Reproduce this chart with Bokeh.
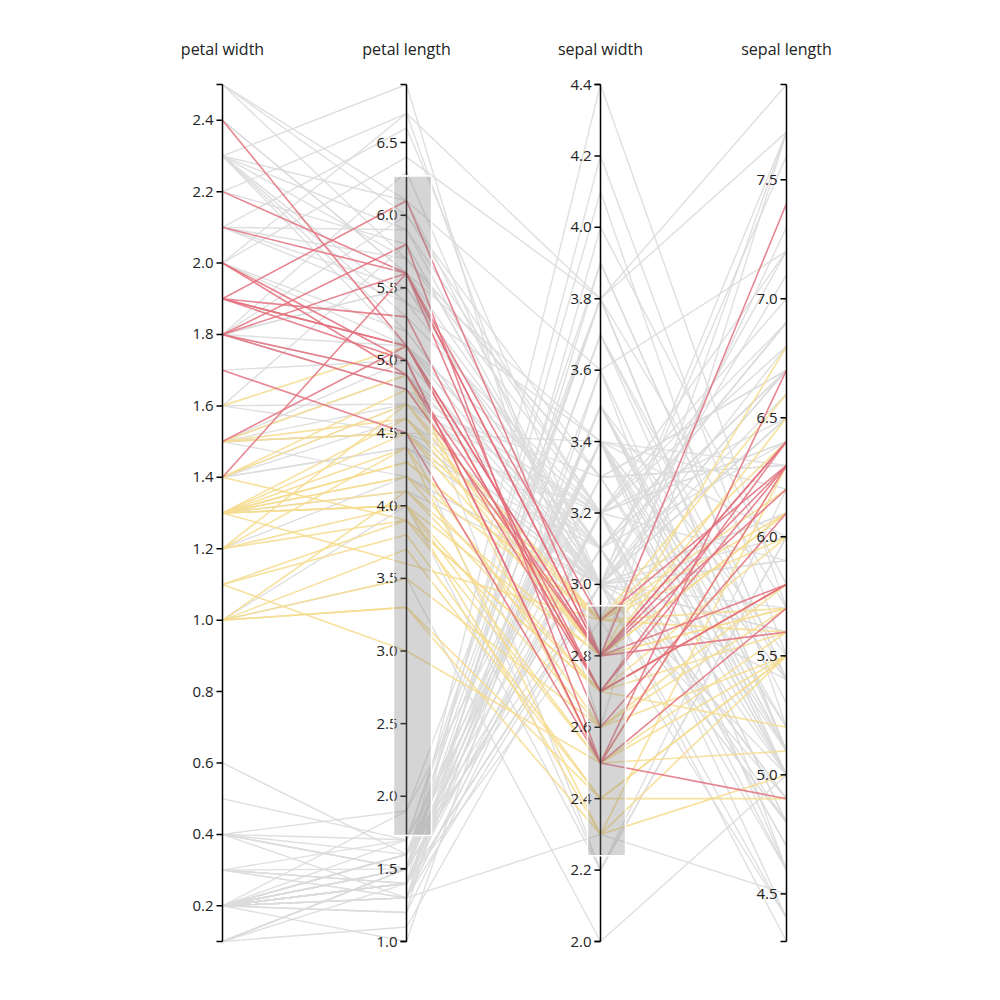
import numpy as np
from bokeh.plotting import figure
from bokeh.models import Range1d
from bokeh.core.properties import value
from bokeh.embed import file_html
from bokeh.resources import INLINE

# iris data
sepal_length = [5.1,4.9,4.7,4.6,5.0,5.4,4.6,5.0,4.4,4.9,5.4,4.8,4.8,4.3,5.8,5.7,5.4,5.1,5.7,5.1,5.4,5.1,4.6,5.1,4.8,5.0,5.0,5.2,5.2,4.7,4.8,5.4,5.2,5.5,4.9,5.0,5.5,4.9,4.4,5.1,5.0,4.5,4.4,5.0,5.1,4.8,5.1,4.6,5.3,5.0,
                7.0,6.4,6.9,5.5,6.5,5.7,6.3,4.9,6.6,5.2,5.0,5.9,6.0,6.1,5.6,6.7,5.6,5.8,6.2,5.6,5.9,6.1,6.3,6.1,6.4,6.6,6.8,6.7,6.0,5.7,5.5,5.5,5.8,6.0,5.4,6.0,6.7,6.3,5.6,5.5,5.5,6.1,5.8,5.0,5.6,5.7,5.7,6.2,5.1,5.7,
                6.3,5.8,7.1,6.3,6.5,7.6,4.9,7.3,6.7,7.2,6.5,6.4,6.8,5.7,5.8,6.4,6.5,7.7,7.7,6.0,6.9,5.6,7.7,6.3,6.7,7.2,6.2,6.1,6.4,7.2,7.4,7.9,6.4,6.3,6.1,7.7,6.3,6.4,6.0,6.9,6.7,6.9,5.8,6.8,6.7,6.7,6.3,6.5,6.2,5.9]
sepal_width = [3.5,3.0,3.2,3.1,3.6,3.9,3.4,3.4,2.9,3.1,3.7,3.4,3.0,3.0,4.0,4.4,3.9,3.5,3.8,3.8,3.4,3.7,3.6,3.3,3.4,3.0,3.4,3.5,3.4,3.2,3.1,3.4,4.1,4.2,3.1,3.2,3.5,3.1,3.0,3.4,3.5,2.3,3.2,3.5,3.8,3.0,3.8,3.2,3.7,3.3,
               3.2,3.2,3.1,2.3,2.8,2.8,3.3,2.4,2.9,2.7,2.0,3.0,2.2,2.9,2.9,3.1,3.0,2.7,2.2,2.5,3.2,2.8,2.5,2.8,2.9,3.0,2.8,3.0,2.9,2.6,2.4,2.4,2.7,2.7,3.0,3.4,3.1,2.3,3.0,2.5,2.6,3.0,2.6,2.3,2.7,3.0,2.9,2.9,2.5,2.8,
               3.3,2.7,3.0,2.9,3.0,3.0,2.5,2.9,2.5,3.6,3.2,2.7,3.0,2.5,2.8,3.2,3.0,3.8,2.6,2.2,3.2,2.8,2.8,2.7,3.3,3.2,2.8,3.0,2.8,3.0,2.8,3.8,2.8,2.8,2.6,3.0,3.4,3.1,3.0,3.1,3.1,3.1,2.7,3.2,3.3,3.0,2.5,3.0,3.4,3.0]
petal_length = [1.4,1.4,1.3,1.5,1.4,1.7,1.4,1.5,1.4,1.5,1.5,1.6,1.4,1.1,1.2,1.5,1.3,1.4,1.7,1.5,1.7,1.5,1.0,1.7,1.9,1.6,1.6,1.5,1.4,1.6,1.6,1.5,1.5,1.4,1.5,1.2,1.3,1.5,1.3,1.5,1.3,1.3,1.3,1.6,1.9,1.4,1.6,1.4,1.5,1.4,
                4.7,4.5,4.9,4.0,4.6,4.5,4.7,3.3,4.6,3.9,3.5,4.2,4.0,4.7,3.6,4.4,4.5,4.1,4.5,3.9,4.8,4.0,4.9,4.7,4.3,4.4,4.8,5.0,4.5,3.5,3.8,3.7,3.9,5.1,4.5,4.5,4.7,4.4,4.1,4.0,4.4,4.6,4.0,3.3,4.2,4.2,4.2,4.3,3.0,4.1,
                6.0,5.1,5.9,5.6,5.8,6.6,4.5,6.3,5.8,6.1,5.1,5.3,5.5,5.0,5.1,5.3,5.5,6.7,6.9,5.0,5.7,4.9,6.7,4.9,5.7,6.0,4.8,4.9,5.6,5.8,6.1,6.4,5.6,5.1,5.6,6.1,5.6,5.5,4.8,5.4,5.6,5.1,5.1,5.9,5.7,5.2,5.0,5.2,5.4,5.1]
petal_width = [0.2,0.2,0.2,0.2,0.2,0.4,0.3,0.2,0.2,0.1,0.2,0.2,0.1,0.1,0.2,0.4,0.4,0.3,0.3,0.3,0.2,0.4,0.2,0.5,0.2,0.2,0.4,0.2,0.2,0.2,0.2,0.4,0.1,0.2,0.1,0.2,0.2,0.1,0.2,0.2,0.3,0.3,0.2,0.6,0.4,0.3,0.2,0.2,0.2,0.2,
               1.4,1.5,1.5,1.3,1.5,1.3,1.6,1.0,1.3,1.4,1.0,1.5,1.0,1.4,1.3,1.4,1.5,1.0,1.5,1.1,1.8,1.3,1.5,1.2,1.3,1.4,1.4,1.7,1.5,1.0,1.1,1.0,1.2,1.6,1.5,1.6,1.5,1.3,1.3,1.3,1.2,1.4,1.2,1.0,1.3,1.2,1.3,1.3,1.1,1.3,
               2.5,1.9,2.1,1.8,2.2,2.1,1.7,1.8,1.8,2.5,2.0,1.9,2.1,2.0,2.4,2.3,1.8,2.2,2.3,1.5,2.3,2.0,2.0,1.8,2.1,1.8,1.8,1.8,2.1,1.6,1.9,2.0,2.2,1.5,1.4,2.3,2.4,1.8,1.8,2.1,2.4,2.3,1.9,2.3,2.5,2.3,1.9,2.0,2.3,1.8]
species = ["setosa"] * 50 + ["versicolor"] * 50 + ["virginica"] * 50

dims = ["petal width", "petal length", "sepal width", "sepal length"]
domains = [(0.1, 2.5), (1.0, 6.9), (2.0, 4.4), (4.3, 7.9)]
ticks = [[0.2,0.4,0.6,0.8,1.0,1.2,1.4,1.6,1.8,2.0,2.2,2.4],
         [1.0,1.5,2.0,2.5,3.0,3.5,4.0,4.5,5.0,5.5,6.0,6.5],
         [2.0,2.2,2.4,2.6,2.8,3.0,3.2,3.4,3.6,3.8,4.0,4.2,4.4],
         [4.5,5.0,5.5,6.0,6.5,7.0,7.5]]
# brush extents: petal length, sepal width
brushes = {1: (1.73, 6.27), 2: (2.24, 2.94)}
colors = {"versicolor": "#f6dc8e", "virginica": "#e3707c"}

axis_x = [222, 406, 600, 786]
top, bottom = 84, 941
data = [petal_width, petal_length, sepal_width, sepal_length]


def ypix(i, v):
    lo, hi = domains[i]
    return bottom - (v - lo) / (hi - lo) * (bottom - top)


p = figure(width=984, height=984, output_backend="svg", toolbar_location=None,
           x_range=Range1d(0, 984), y_range=Range1d(984, 0), min_border=0)
p.axis.visible = False
p.grid.visible = False
p.outline_line_color = None

sel_xs, sel_ys, sel_c, gx, gy = [], [], [], [], []
for k in range(150):
    ys = [ypix(i, data[i][k]) for i in range(4)]
    ok = all(lo <= data[i][k] <= hi for i, (lo, hi) in brushes.items())
    if ok and species[k] in colors:
        sel_xs.append(axis_x); sel_ys.append(ys); sel_c.append(colors[species[k]])
    else:
        gx.append(axis_x); gy.append(ys)

p.multi_line(gx, gy, line_color="#dcdcdc", line_width=1.4, line_alpha=0.9)
p.multi_line(sel_xs, sel_ys, line_color=sel_c, line_width=1.6, line_alpha=0.85)

font = value("Open Sans")
for i, x in enumerate(axis_x):
    p.segment([x, x - 6, x - 6], [top, top, bottom], [x, x, x], [bottom, top, bottom],
              line_color="black", line_width=1.5)
    ty = [ypix(i, t) for t in ticks[i]]
    p.segment([x - 6] * len(ty), ty, [x] * len(ty), ty, line_color="black", line_width=1.5)
    p.text([x - 9] * len(ty), ty, text=[f"{t:.1f}" for t in ticks[i]], text_align="right",
           text_baseline="middle", text_font=font, text_font_size="15px", text_color="#222222")
    p.text([x], [48], text=[dims[i]], text_align="center", text_baseline="middle",
           text_font=font, text_font_size="16px", text_color="#222222")
    if i in brushes:
        lo, hi = brushes[i]
        p.quad(left=x - 13, right=x + 25, top=ypix(i, hi), bottom=ypix(i, lo),
               fill_color="#888888", fill_alpha=0.35, line_color="white", line_width=1.5)

open("out.html", "w").write(file_html(p, INLINE))
